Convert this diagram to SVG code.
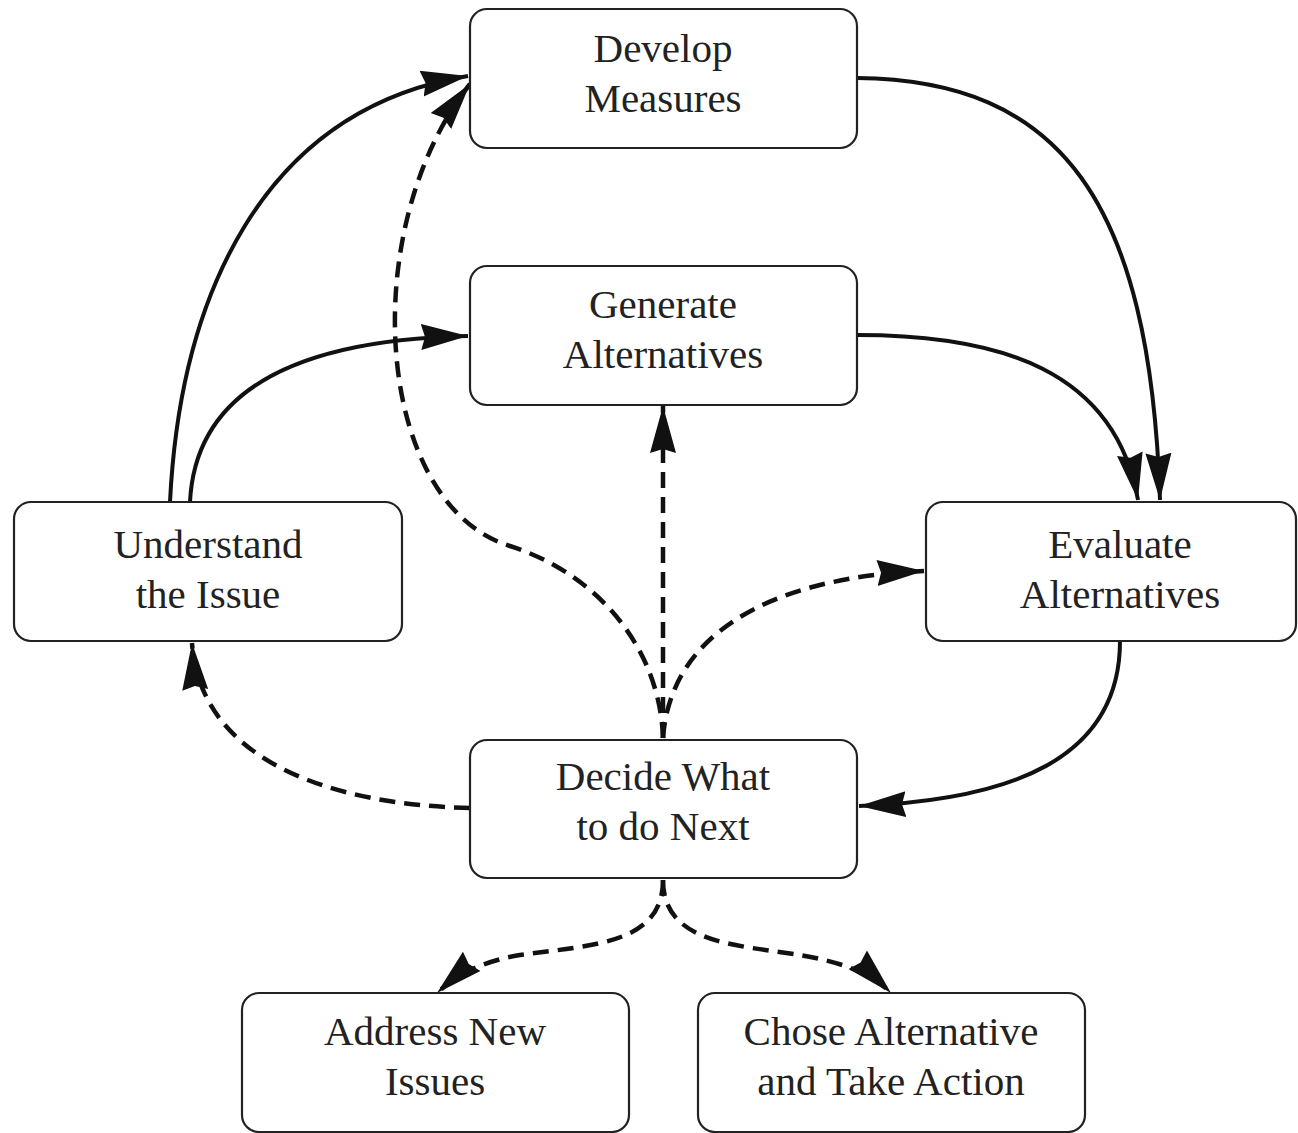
<svg xmlns="http://www.w3.org/2000/svg" width="1298" height="1133" viewBox="0 0 1298 1133">
<style>
.box{fill:#fff;stroke:#222;stroke-width:2.2}
.t{font-family:"Liberation Serif","Times New Roman",serif;font-size:41px;fill:#222;text-anchor:middle}
.c{fill:none;stroke:#111;stroke-width:4}
.d{stroke-width:4.5;stroke-dasharray:16 9}
</style>
<defs>
<marker id="ah" markerUnits="userSpaceOnUse" viewBox="0 0 48 28" markerWidth="48" markerHeight="28" refX="47" refY="14" orient="auto">
<path d="M0,1 L47,14 L0,27 L4,14 z" fill="#111"/>
</marker>
</defs>
<rect width="1298" height="1133" fill="#fff"/>
<g id="connectors">
<path class="c" d="M170,502 C180,300 260,110 468,76" marker-end="url(#ah)"/>
<path class="c" d="M190,502 C195,400 280,340 468,336" marker-end="url(#ah)"/>
<path class="c" d="M857,78 C1060,80 1150,200 1160,500" marker-end="url(#ah)"/>
<path class="c" d="M857,335 C1000,335 1115,370 1138,500" marker-end="url(#ah)"/>
<path class="c" d="M1120,641 C1120,760 1010,800 859,806" marker-end="url(#ah)"/>
<path class="c d" d="M470,808 C330,805 200,760 192,643" marker-end="url(#ah)"/>
<path class="c d" d="M663,738 C660,650 600,575 510,546 C375,505 355,230 470,84" marker-end="url(#ah)"/>
<path class="c d" d="M663,738 L663,406" marker-end="url(#ah)"/>
<path class="c d" d="M663,738 C670,640 760,578 924,571" marker-end="url(#ah)"/>
<path class="c d" d="M663,880 C663,945 590,945 520,955 C485,961 460,972 437,993" marker-end="url(#ah)"/>
<path class="c d" d="M663,880 C663,945 740,945 800,955 C840,962 870,972 891,993" marker-end="url(#ah)"/>
</g>
<g id="develop"><rect class="box" x="470" y="9" width="387" height="139" rx="17"/><text class="t" x="663" y="62">Develop</text><text class="t" x="663" y="112">Measures</text></g>
<g id="generate"><rect class="box" x="470" y="266" width="387" height="139" rx="17"/><text class="t" x="663" y="318">Generate</text><text class="t" x="663" y="368">Alternatives</text></g>
<g id="understand"><rect class="box" x="14" y="502" width="388" height="139" rx="17"/><text class="t" x="208" y="558">Understand</text><text class="t" x="208" y="608">the Issue</text></g>
<g id="evaluate"><rect class="box" x="926" y="502" width="370" height="139" rx="17"/><text class="t" x="1120" y="558">Evaluate</text><text class="t" x="1120" y="608">Alternatives</text></g>
<g id="decide"><rect class="box" x="470" y="740" width="387" height="138" rx="17"/><text class="t" x="663" y="790">Decide What</text><text class="t" x="663" y="840">to do Next</text></g>
<g id="address"><rect class="box" x="242" y="993" width="387" height="139" rx="17"/><text class="t" x="435" y="1045">Address New</text><text class="t" x="435" y="1095">Issues</text></g>
<g id="chose"><rect class="box" x="698" y="993" width="387" height="139" rx="17"/><text class="t" x="891" y="1045">Chose Alternative</text><text class="t" x="891" y="1095">and Take Action</text></g>
</svg>
